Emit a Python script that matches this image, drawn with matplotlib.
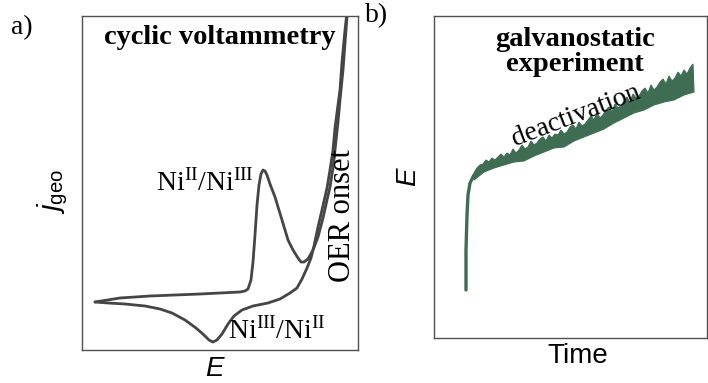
import matplotlib
matplotlib.use("Agg")
import matplotlib.pyplot as plt

plt.rcParams['mathtext.fontset'] = 'custom'
plt.rcParams['mathtext.rm'] = 'Liberation Serif'
plt.rcParams['mathtext.it'] = 'Liberation Sans:italic'
plt.rcParams['mathtext.sf'] = 'Liberation Sans'

W, H = 708, 383

# --- panel a: cyclic voltammogram in pixel units ---
# forward (anodic) scan
fwd_x = [95, 120, 150, 200, 240, 245, 248, 251, 253, 255, 257, 259, 261, 263, 265,
         267, 270, 275, 282, 288, 293, 298, 301, 304, 308, 313, 318, 323, 327, 330,
         333, 335, 338, 340, 343, 345, 347, 348]
fwd_y = [302, 298, 296, 294, 292, 291, 289, 280, 262, 235, 205, 185, 174, 170, 171,
         175, 184, 197, 220, 240, 250, 258, 262, 262, 259, 250, 237, 218, 200, 187,
         168, 150, 122, 100, 70, 43, 17, 5]
# reverse (cathodic) scan
rev_x = [348, 347, 345, 342, 340, 338, 335, 333, 330, 327, 322, 318, 314, 311, 307,
         302, 297, 290, 280, 268, 253, 242, 234, 228, 222, 217, 213, 209, 204, 196,
         185, 172, 160, 145, 125, 108, 95]
rev_y = [5, 12, 30, 62, 90, 105, 128, 150, 170, 188, 210, 227, 246, 258, 268,
         279, 288, 293, 299, 303, 306, 310, 316, 324, 334, 340, 342, 340, 335, 328,
         320, 313, 309, 306, 304, 303, 302]

# --- panel b: galvanostatic potential transient (t, E in axis units) ---
rise_t = [32, 32, 33, 34, 36, 40]
rise_E = [48, 88, 123, 143, 155, 163]
# noisy upper envelope of the potential trace
top_t = [40, 43, 46, 49, 52, 55, 58, 61, 64, 67, 70, 73, 76, 79, 82, 85, 88, 91, 94,
         97, 100, 103, 106, 109, 112, 115, 118, 121, 124, 127, 130, 133, 136, 139,
         142, 145, 148, 151, 154, 157, 160, 163, 166, 169, 172, 175, 178, 181, 184,
         187, 190, 193, 196, 199, 202, 205, 208, 211, 214, 217, 220, 223, 226, 229,
         232, 235, 238, 241, 244, 247, 250, 253, 256, 259]
top_E = [165, 170, 173, 174, 178, 176, 180, 178, 181, 184, 181, 185, 183, 189, 185,
         188, 193, 189, 191, 197, 193, 195, 199, 201, 197, 203, 200, 204, 203, 208,
         204, 206, 211, 213, 209, 216, 212, 214, 218, 222, 218, 225, 220, 223, 228,
         231, 226, 234, 230, 232, 237, 241, 235, 244, 240, 242, 247, 250, 245, 253,
         248, 251, 256, 259, 254, 262, 257, 260, 266, 262, 268, 264, 270, 274]
# lower envelope
bot_t = [40, 50, 60, 70, 80, 90, 100, 110, 120, 130, 140, 150, 160, 170, 180, 190,
         200, 210, 220, 230, 240, 250, 260]
bot_E = [158, 166, 170, 173, 176, 177, 182, 186, 190, 191, 197, 201, 205, 209, 215,
         220, 225, 228, 233, 236, 238, 243, 246]

fig = plt.figure(figsize=(W / 100, H / 100), dpi=100)


def px(x, y):
    return x / W, 1 - y / H


def style_box(ax):
    ax.set_xticks([])
    ax.set_yticks([])
    for s in ax.spines.values():
        s.set_color('#505050')
        s.set_linewidth(1.0)


# axes a uses pixel coordinates of the original figure
ax1 = fig.add_axes([82 / W, 1 - 350 / H, 276 / W, 334 / H])
ax1.plot(fwd_x, fwd_y, color='#454545', lw=2.0, solid_capstyle='round',
         solid_joinstyle='round')
ax1.plot(rev_x, rev_y, color='#454545', lw=2.0, solid_capstyle='round',
         solid_joinstyle='round')
ax1.set_xlim(82, 358)
ax1.set_ylim(350, 16)
style_box(ax1)

ax2 = fig.add_axes([434 / W, 1 - 338 / H, 273 / W, 322 / H])
green = '#3e6d54'
ax2.plot(rise_t, rise_E, color=green, lw=2.4, solid_capstyle='round')
ax2.fill(top_t + bot_t[::-1], top_E + bot_E[::-1], color=green, lw=0.8,
         edgecolor=green)
ax2.set_xlim(0, 273)
ax2.set_ylim(0, 322)
style_box(ax2)

serif = 'Liberation Serif'
sans = 'Liberation Sans'

fig.text(*px(22, 28), 'a)', family=serif, fontsize=20, ha='center', va='center')
fig.text(*px(377, 16), 'b)', family=serif, fontsize=20, ha='center', va='center')
fig.text(*px(220, 38), 'cyclic voltammetry', family=serif, fontweight='bold',
         fontsize=20.5, ha='center', va='center')
fig.text(*px(205, 183), r'Ni$^{\mathrm{II}}$/Ni$^{\mathrm{III}}$', family=serif,
         fontsize=20, ha='center', va='center')
fig.text(*px(277, 331), r'Ni$^{\mathrm{III}}$/Ni$^{\mathrm{II}}$', family=serif,
         fontsize=20, ha='center', va='center')
fig.text(*px(343, 216), 'OER onset', family=serif, fontsize=22, rotation=90,
         ha='center', va='center')
fig.text(*px(53, 192), r'$\mathit{j}_{\mathsf{geo}}$', fontsize=21, rotation=90,
         ha='center', va='center')
fig.text(*px(214, 369), 'E', family=sans, style='italic', fontsize=20,
         ha='center', va='center')

fig.text(*px(575, 52), 'galvanostatic\nexperiment', family=serif, fontweight='bold',
         fontsize=20.5, ha='center', va='center', linespacing=0.95)
fig.text(*px(576, 116), 'deactivation', family=serif, fontsize=20, rotation=21,
         ha='center', va='center')
fig.text(*px(408, 177), 'E', family=sans, style='italic', fontsize=20, rotation=90,
         ha='center', va='center')
fig.text(*px(578, 356), 'Time', family=sans, fontsize=20, ha='center', va='center')

fig.savefig('out.png', dpi=100)
